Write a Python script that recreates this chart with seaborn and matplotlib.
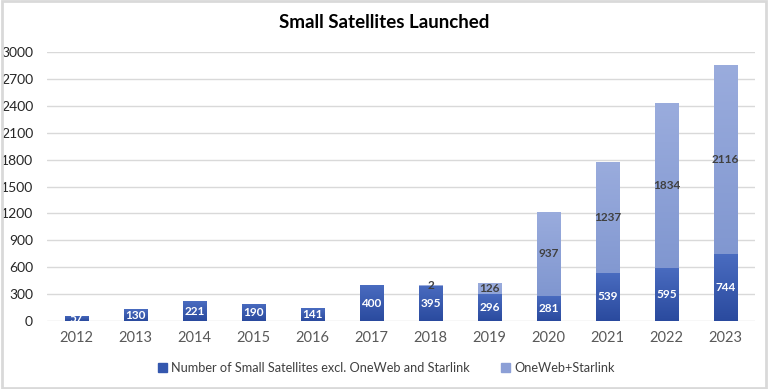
import numpy as np
import pandas as pd
import matplotlib
matplotlib.use("Agg")
import matplotlib.pyplot as plt
import seaborn as sns
from matplotlib.colors import LinearSegmentedColormap
from matplotlib.patches import Rectangle, Patch

years = ["2012", "2013", "2014", "2015", "2016", "2017", "2018", "2019", "2020", "2021", "2022", "2023"]
excl = [57, 130, 221, 190, 141, 400, 395, 296, 281, 539, 595, 744]
oneweb = [0, 0, 0, 0, 0, 0, 2, 126, 937, 1237, 1834, 2116]
yticks = [0, 300, 600, 900, 1200, 1500, 1800, 2100, 2400, 2700, 3000]
title = "Small Satellites Launched"
s1 = "Number of Small Satellites excl. OneWeb and Starlink"
s2 = "OneWeb+Starlink"

df = pd.DataFrame({"year": years, "excl": excl, "oneweb": oneweb})
df["total"] = df["excl"] + df["oneweb"]

sns.set_theme(style="white")
plt.rcParams["font.family"] = ["Lato", "DejaVu Sans"]

fig = plt.figure(figsize=(7.68, 3.89), dpi=100)
ax = fig.add_axes([47 / 768, 1 - 321 / 389, 708 / 768, 269 / 389])

dark = "#3457AE"
light = "#8C9FD6"
sns.barplot(data=df, x="year", y="total", color=light, width=0.4, ax=ax, saturation=1, zorder=2)
n = len(ax.patches)
sns.barplot(data=df, x="year", y="excl", color=dark, width=0.4, ax=ax, saturation=1, zorder=3)
light_patches = ax.patches[:n]
dark_patches = ax.patches[n:]

# gradients
cm_dark = LinearSegmentedColormap.from_list("d", ["#2A4A9E", "#4A6CC0"])
cm_light = LinearSegmentedColormap.from_list("l", ["#7890CC", "#9AACDD"])
grad = np.linspace(0, 1, 256).reshape(-1, 1)
for patches, cmap in ((light_patches, cm_light), (dark_patches, cm_dark)):
    for p in patches:
        x0, y0 = p.get_x(), p.get_y()
        w, h = p.get_width(), p.get_height()
        if h <= 0:
            continue
        im = ax.imshow(grad, cmap=cmap, aspect="auto", origin="lower",
                       extent=[x0, x0 + w, y0, y0 + h], zorder=p.get_zorder() + 0.1)
        im.set_clip_path(p)
        p.set_edgecolor("none")

ax.set_xlim(-0.5, len(years) - 0.5)
ax.set_ylim(0, 3000)
ax.set_yticks(yticks)
ax.set_yticklabels([str(v) for v in yticks])

# labels
for i, (e, o) in enumerate(zip(excl, oneweb)):
    ax.text(i, e / 2, str(e), ha="center", va="center", color="white",
            fontsize=8.5, fontweight="bold", zorder=6)
    if o > 0:
        ax.text(i, e + o / 2, str(o), ha="center", va="center", color="#404040",
                fontsize=8.5, fontweight="bold", zorder=6)

ax.grid(axis="y", color="#D9D9D9", linewidth=1, zorder=0)
ax.set_axisbelow(True)
for s in ax.spines.values():
    s.set_visible(False)
ax.set_xlabel("")
ax.set_ylabel("")
ax.tick_params(axis="both", length=0)
ax.tick_params(axis="y", labelsize=10, labelcolor="#262626", pad=10)
ax.tick_params(axis="x", labelsize=10.5, labelcolor="#595959", pad=7)

fig.text(0.5, 1 - 22 / 389, title, ha="center", va="center", fontsize=13.5, fontweight="bold", color="#000000")

handles = [Patch(color=dark, label=s1), Patch(color=light, label=s2)]
fig.legend(handles=handles, loc="center", bbox_to_anchor=(0.503, 1 - 368 / 389), ncol=2,
           frameon=False, fontsize=9.2, handlelength=0.7, handleheight=0.7,
           handletextpad=0.3, columnspacing=2.5, labelcolor="#404040")

fig.patches.append(Rectangle((0.002, 0.003), 0.996, 0.994, transform=fig.transFigure,
                             fill=False, edgecolor="#D9D9D9", linewidth=2, zorder=10))

fig.savefig("out.png", dpi=100)
